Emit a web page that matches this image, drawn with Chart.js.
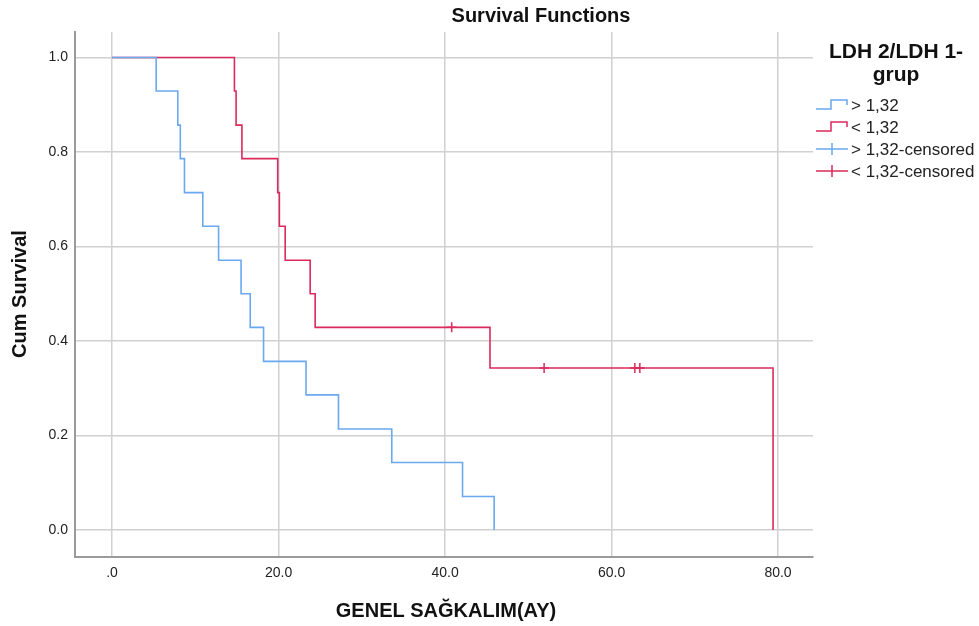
<!DOCTYPE html>
<html>
<head>
<meta charset="utf-8">
<script src="https://cdn.jsdelivr.net/npm/chart.js@4/dist/chart.umd.min.js"></script>
<style>
  html, body { margin: 0; padding: 0; background: #fff; }
  #wrap { width: 979px; height: 626px; position: relative; }
</style>
</head>
<body>
<div id="wrap"><canvas id="kmChart" width="979" height="626"></canvas></div>
<script>
// survival steps (time in months, cumulative survival)
const highTimes = [0, 5.3, 7.9, 8.2, 8.7, 10.9, 12.8, 15.5, 16.6, 18.2, 23.3, 27.2, 33.6, 42.1, 45.9];
const highSurv  = [1, 0.929, 0.857, 0.786, 0.714, 0.643, 0.571, 0.5, 0.429, 0.357, 0.286, 0.214, 0.143, 0.071, 0];
const lowTimes  = [0, 14.7, 14.9, 15.6, 19.9, 20.1, 20.8, 23.8, 24.4, 40.8, 45.4, 51.9, 62.8, 63.4, 79.4];
const lowSurv   = [1, 0.929, 0.857, 0.786, 0.714, 0.643, 0.571, 0.5, 0.429, 0.429, 0.343, 0.343, 0.343, 0.343, 0];
const lowCensTimes = [40.8, 51.9, 62.8, 63.4];
const lowCensSurv  = [0.429, 0.343, 0.343, 0.343];

const xTicks = [0, 20, 40, 60, 80];
const yTicks = [0, 0.2, 0.4, 0.6, 0.8, 1.0];
const seriesNames = ["> 1,32", "< 1,32", "> 1,32-censored", "< 1,32-censored"];

const blue = "#6aa8f0";
const red = "#dc2a5c";
const font = "'Liberation Sans', Arial, sans-serif";

function toPoints(xs, ys) {
    return xs.map((x, i) => ({x: x, y: ys[i]}));
}

const extras = {
    id: "extras",
    afterDraw(chart) {
        const ctx = chart.ctx;
        ctx.save();
        ctx.fillStyle = "#111";
        ctx.textAlign = "center";
        ctx.textBaseline = "middle";
        ctx.font = "bold 20px " + font;
        ctx.fillText("Survival Functions", 541, 16);

        // axis titles
        ctx.fillText("GENEL SAĞKALIM(AY)", 446, 611);
        ctx.save();
        ctx.translate(20, 294);
        ctx.rotate(-Math.PI / 2);
        ctx.fillText("Cum Survival", 0, 0);
        ctx.restore();

        // legend
        ctx.textBaseline = "alphabetic";
        ctx.font = "bold 21px " + font;
        ctx.fillText("LDH 2/LDH 1-", 896, 58);
        ctx.fillText("grup", 896, 81);
        ctx.textAlign = "left";
        ctx.textBaseline = "middle";
        ctx.font = "17px " + font;
        const rows = [105, 127, 149, 171];
        const colors = [blue, red, blue, red];
        rows.forEach((y, i) => {
            ctx.strokeStyle = colors[i];
            ctx.lineWidth = 1.5;
            ctx.beginPath();
            if (i < 2) {
                ctx.moveTo(816, y + 4);
                ctx.lineTo(831, y + 4);
                ctx.lineTo(831, y - 5);
                ctx.lineTo(847, y - 5);
                ctx.lineTo(847, y);
            } else {
                ctx.moveTo(816, y);
                ctx.lineTo(848, y);
                ctx.moveTo(832, y - 6);
                ctx.lineTo(832, y + 6);
            }
            ctx.stroke();
            ctx.fillStyle = "#222";
            ctx.fillText(seriesNames[i], 851, y + 1);
        });
        ctx.restore();
    }
};

new Chart("kmChart", {
    type: "line",
    data: {
        datasets: [{
            label: seriesNames[0],
            data: toPoints(highTimes, highSurv),
            stepped: "before",
            borderColor: blue,
            borderWidth: 1.6,
            pointRadius: 0,
            fill: false
        }, {
            label: seriesNames[1],
            data: toPoints(lowTimes, lowSurv),
            stepped: "before",
            borderColor: red,
            borderWidth: 1.6,
            pointRadius: 0,
            fill: false
        }, {
            label: seriesNames[3],
            type: "scatter",
            data: toPoints(lowCensTimes, lowCensSurv),
            pointStyle: "cross",
            pointRadius: 5,
            pointBorderWidth: 1.5,
            borderColor: red,
            backgroundColor: red,
            showLine: false
        }]
    },
    options: {
        responsive: false,
        animation: false,
        devicePixelRatio: 1,
        layout: {padding: {top: 32, right: 166, left: 0, bottom: 0}},
        plugins: {legend: {display: false}, title: {display: false}, tooltip: {enabled: false}},
        scales: {
            x: {
                type: "linear",
                min: -4.45,
                max: 84.2,
                afterBuildTicks: s => { s.ticks = xTicks.map(v => ({value: v})); },
                afterFit: s => { s.height = 69; },
                grid: {color: "#d0d0d0", lineWidth: 1.5, drawTicks: false},
                border: {color: "#9a9a9a", width: 2},
                ticks: {
                    padding: 8,
                    maxRotation: 0,
                    color: "#222",
                    font: {family: font, size: 14},
                    callback: v => v === 0 ? ".0" : v.toFixed(1)
                }
            },
            y: {
                type: "linear",
                min: -0.057,
                max: 1.054,
                afterBuildTicks: s => { s.ticks = yTicks.map(v => ({value: v})); },
                afterFit: s => { s.width = 75; },
                grid: {color: "#d0d0d0", lineWidth: 1.5, drawTicks: false},
                border: {color: "#9a9a9a", width: 2},
                ticks: {
                    padding: 7,
                    color: "#222",
                    font: {family: font, size: 14},
                    callback: v => v.toFixed(1)
                }
            }
        }
    },
    plugins: [extras]
});
</script>
</body>
</html>
